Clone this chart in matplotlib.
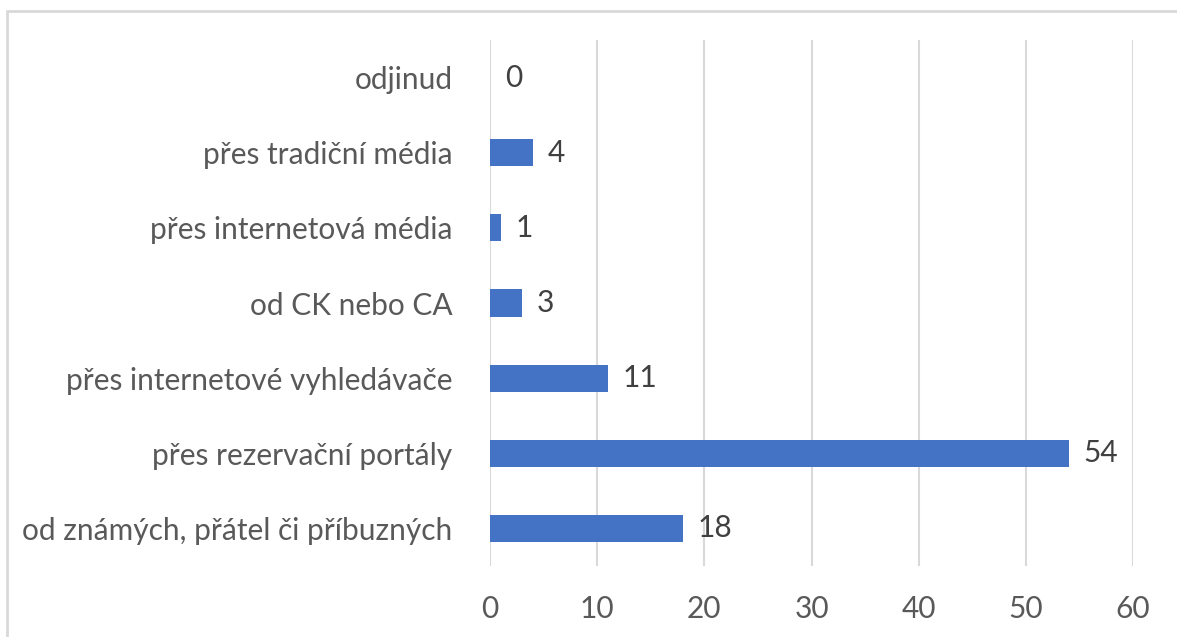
import matplotlib
matplotlib.use("Agg")
import matplotlib.pyplot as plt
from matplotlib.patches import Rectangle

categories = [
    "od známých, přátel či příbuzných",
    "přes rezervační portály",
    "přes internetové vyhledávače",
    "od CK nebo CA",
    "přes internetová média",
    "přes tradiční média",
    "odjinud",
]
values = [18, 54, 11, 3, 1, 4, 0]
x_ticks = [0, 10, 20, 30, 40, 50, 60]

plt.rcParams["font.family"] = ["Lato", "DejaVu Sans"]

fig = plt.figure(figsize=(11.77, 6.37), dpi=100)
ax = fig.add_axes([490 / 1177, 1 - 566 / 637, (1133 - 490) / 1177, (566 - 40) / 637])

# outer frame like the Excel chart area
fig.patches.append(Rectangle((7 / 1177, -0.05), 1.1, 1 - 11 / 637 + 0.05,
                             transform=fig.transFigure, fill=False,
                             edgecolor="#d9d9d9", linewidth=2))

ypos = range(len(categories))
ax.barh(ypos, values, height=0.36, color="#4472C4", zorder=3)

for y, v in zip(ypos, values):
    ax.text(v + 1.4, y, str(v), va="center", ha="left",
            fontsize=21.5, color="#404040")

ax.set_xlim(0, 60)
ax.set_ylim(-0.5, 6.5)
ax.set_xticks(x_ticks)
ax.set_yticks(list(ypos))
ax.set_yticklabels(categories)
ax.tick_params(axis="x", labelsize=21.5, colors="#595959", length=0, pad=21)
ax.tick_params(axis="y", labelsize=21.5, colors="#595959", length=0, pad=27)
ax.xaxis.grid(True, color="#d9d9d9", linewidth=1.5, zorder=0)
for s in ax.spines.values():
    s.set_visible(False)

fig.savefig("out.png", dpi=100)
